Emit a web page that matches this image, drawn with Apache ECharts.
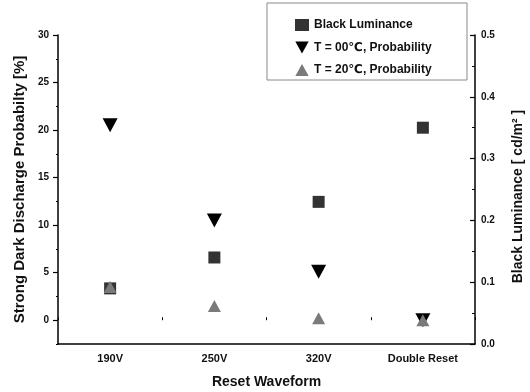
<!DOCTYPE html>
<html>
<head>
<meta charset="utf-8">
<script src="https://cdn.jsdelivr.net/npm/echarts@6/dist/echarts.min.js"></script>
<style>
  html, body { margin: 0; padding: 0; background: #fff; }
  #chart { width: 530px; height: 392px; }
</style>
</head>
<body>
<div id="chart"></div>
<script>
// Reset waveforms on the category axis
const categories = ['190V', '250V', '320V', 'Double Reset'];
// Black luminance, cd/m² (right axis)
const blackLuminance = [0.09, 0.14, 0.23, 0.35];
// Strong dark discharge probability, % (left axis)
const probT00 = [20.5, 10.5, 5.1, 0];
const probT20 = [3.5, 1.5, 0.2, 0];
// Tick labels
const leftTicks = [0, 5, 10, 15, 20, 25, 30];

const FONT = '"Liberation Sans", Arial, "DejaVu Sans", sans-serif';
const downTri = 'path://M0,0L20,0L10,18Z';
const upTri = 'path://M10,0L20,18L0,18Z';

const chart = echarts.init(document.getElementById('chart'));
chart.setOption({
  animation: false,
  backgroundColor: '#fff',
  grid: { left: 58, right: 55, top: 35, bottom: 48, outerBoundsMode: 'none', containLabel: false },
  graphic: [{
    type: 'rect',
    shape: { x: 267, y: 3, width: 200, height: 77 },
    style: { fill: '#fff', stroke: '#8a8a8a', lineWidth: 1 },
    z: 50
  }],
  legend: {
    orient: 'vertical',
    left: 290,
    top: 13,
    z: 60,
    itemWidth: 14,
    itemHeight: 12,
    itemGap: 8.5,
    itemStyle: { opacity: 1 },
    textStyle: { fontFamily: FONT, fontWeight: 'bold', fontSize: 12, color: '#111', lineHeight: 14 },
    data: [
      { name: 'Black Luminance', icon: 'rect' },
      { name: 'T = 00℃, Probability', icon: downTri },
      { name: 'T = 20℃, Probability', icon: upTri }
    ]
  },
  xAxis: [{
    type: 'category',
    data: categories,
    boundaryGap: true,
    name: 'Reset Waveform',
    nameLocation: 'middle',
    nameGap: 31,
    nameTextStyle: { fontFamily: FONT, fontWeight: 'bold', fontSize: 14, color: '#111' },
    axisLine: { onZero: false, lineStyle: { color: '#000', width: 1.5 } },
    axisTick: { alignWithLabel: true, length: 5, lineStyle: { color: '#000', width: 1.2 } },
    axisLabel: { fontFamily: FONT, fontWeight: 'bold', fontSize: 11, color: '#111', margin: 9 },
    splitLine: { show: false }
  }, {
    // band boundary ticks
    type: 'value',
    position: 'bottom',
    min: 0, max: 4, interval: 1,
    axisLine: { show: false },
    axisTick: { show: true, inside: true, length: 3, lineStyle: { color: '#000' } },
    axisLabel: { show: false },
    splitLine: { show: false }
  }],
  yAxis: [{
    type: 'value',
    position: 'left',
    min: -2.5, max: 30,
    name: 'Strong Dark Discharge Probabilty [%]',
    nameLocation: 'middle',
    nameGap: 24,
    nameTextStyle: { fontFamily: FONT, fontWeight: 'bold', fontSize: 15, color: '#111' },
    axisLine: { show: true, lineStyle: { color: '#000', width: 1.5 } },
    axisTick: { show: true, customValues: leftTicks, length: 5, lineStyle: { color: '#000', width: 1.2 } },
    axisLabel: { customValues: leftTicks, fontFamily: FONT, fontWeight: 'bold', fontSize: 10, color: '#111', margin: 9 },
    splitLine: { show: false }
  }, {
    type: 'value',
    position: 'right',
    min: 0, max: 0.5, interval: 0.1,
    name: 'Black Luminance [ cd/m² ]',
    nameLocation: 'middle',
    nameGap: 36,
    nameTextStyle: { fontFamily: FONT, fontWeight: 'bold', fontSize: 14, color: '#111', padding: [0, 14, 0, 0] },
    axisLine: { show: true, lineStyle: { color: '#000', width: 1.5 } },
    axisTick: { show: true, inside: true, length: 5, lineStyle: { color: '#000', width: 1.2 } },
    minorTick: { show: true, splitNumber: 2, length: 3, lineStyle: { color: '#000' } },
    axisLabel: { fontFamily: FONT, fontWeight: 'bold', fontSize: 10, color: '#111', margin: 6,
      formatter: v => v.toFixed(1) },
    splitLine: { show: false }
  }, {
    // minor ticks of the probability axis
    type: 'value',
    position: 'left',
    min: -2.5, max: 30, interval: 5,
    axisLine: { show: false },
    axisTick: { show: true, length: 2, lineStyle: { color: '#000' } },
    axisLabel: { show: false },
    splitLine: { show: false }
  }],
  series: [{
    name: 'Black Luminance',
    type: 'scatter',
    yAxisIndex: 1,
    symbol: 'rect',
    symbolSize: 12,
    itemStyle: { color: '#333', opacity: 1 },
    data: blackLuminance
  }, {
    name: 'T = 00℃, Probability',
    type: 'scatter',
    yAxisIndex: 0,
    symbol: downTri,
    symbolSize: [15, 14],
    itemStyle: { color: '#000', opacity: 1 },
    data: probT00
  }, {
    name: 'T = 20℃, Probability',
    type: 'scatter',
    yAxisIndex: 0,
    symbol: upTri,
    symbolSize: [13, 12],
    itemStyle: { color: '#7a7a7a', opacity: 1 },
    data: probT20
  }]
});
</script>
</body>
</html>
